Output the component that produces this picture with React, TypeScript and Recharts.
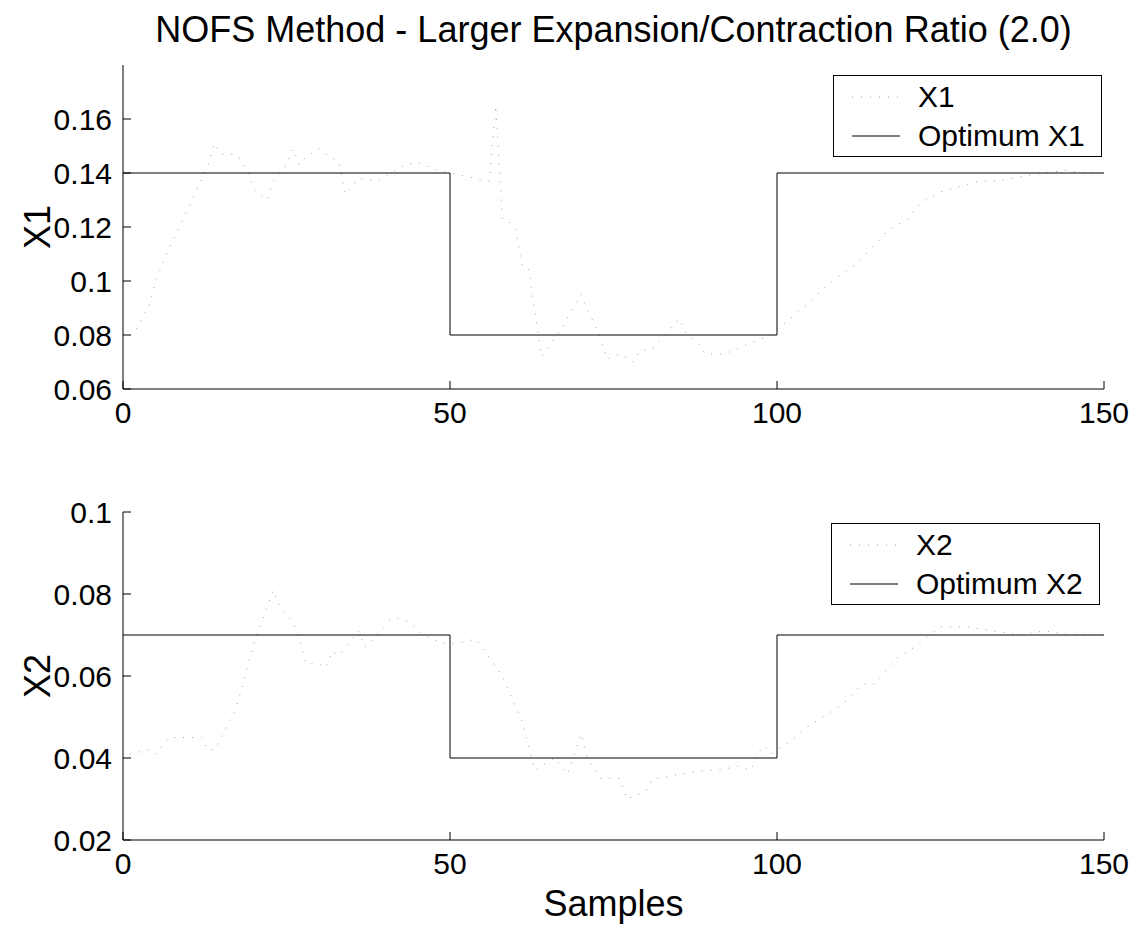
import React from "react";
import { LineChart, Line, XAxis, YAxis } from "recharts";

const sampleTicks = [0, 50, 100, 150];
const x1Ticks = [0.06, 0.08, 0.1, 0.12, 0.14, 0.16];
const x2Ticks = [0.02, 0.04, 0.06, 0.08, 0.1];

// optimum set points (step changes at samples 50 and 100)
const optSamples = [0, 50, 100, 150];
const optX1 = [0.14, 0.08, 0.14, 0.14];
const optX2 = [0.07, 0.04, 0.07, 0.07];

// NOFS estimate of X1
const x1Samples = [
  1, 2, 4, 5, 7, 10, 13, 14, 15, 17, 18, 19, 20, 22, 23, 25, 26, 27, 28, 30,
  31, 33, 34, 36, 39, 41, 43, 45, 48, 50, 52, 56, 57, 58, 59, 60, 61, 62, 64,
  67, 69, 70, 73, 74, 76, 78, 79, 81, 85, 86, 88, 89, 92, 95, 97, 99, 102, 105,
  107, 109, 112, 114, 116, 117, 120, 122, 125, 128, 131, 134, 138, 141, 144,
  147, 150,
];
const x1Values = [
  0.08, 0.082, 0.091, 0.1, 0.112, 0.127, 0.143, 0.151, 0.147, 0.147, 0.145,
  0.141, 0.134, 0.13, 0.137, 0.143, 0.149, 0.143, 0.146, 0.149, 0.147, 0.144,
  0.132, 0.138, 0.137, 0.14, 0.143, 0.144, 0.141, 0.14, 0.139, 0.137, 0.165,
  0.123, 0.122, 0.119, 0.106, 0.105, 0.072, 0.082, 0.091, 0.095, 0.079, 0.071,
  0.073, 0.07, 0.074, 0.075, 0.086, 0.081, 0.077, 0.073, 0.073, 0.076, 0.078,
  0.08, 0.086, 0.092, 0.097, 0.101, 0.106, 0.111, 0.116, 0.119, 0.123, 0.129,
  0.133, 0.135, 0.137, 0.137, 0.139, 0.14, 0.141, 0.14, 0.14,
];

// NOFS estimate of X2
const x2Samples = [
  1, 4, 5, 7, 10, 12, 13, 14, 16, 17, 18, 20, 23, 24, 25, 26, 27, 28, 30, 31,
  32, 33, 36, 37, 40, 41, 42, 44, 45, 47, 49, 51, 54, 58, 61, 63, 66, 68, 69,
  70, 71, 73, 75, 76, 77, 80, 81, 82, 85, 89, 91, 94, 96, 97, 98, 99, 102, 105,
  108, 110, 113, 115, 116, 118, 121, 125, 129, 133, 137, 141, 145, 150,
];
const x2Values = [
  0.041, 0.042, 0.041, 0.045, 0.045, 0.045, 0.042, 0.042, 0.048, 0.051, 0.056,
  0.068, 0.081, 0.077, 0.075, 0.073, 0.069, 0.063, 0.063, 0.062, 0.066, 0.065,
  0.071, 0.067, 0.072, 0.074, 0.074, 0.073, 0.071, 0.069, 0.068, 0.068, 0.069,
  0.06, 0.049, 0.037, 0.04, 0.036, 0.041, 0.046, 0.04, 0.035, 0.035, 0.035,
  0.03, 0.032, 0.035, 0.035, 0.036, 0.037, 0.037, 0.038, 0.037, 0.041, 0.043,
  0.041, 0.044, 0.048, 0.051, 0.053, 0.058, 0.058, 0.06, 0.064, 0.067, 0.072,
  0.072, 0.071, 0.07, 0.071, 0.07, 0.07,
];

const toRows = (xs: number[], ys: number[]) => xs.map((s, i) => ({ s, v: ys[i] }));

const FONT = '"Liberation Sans", Arial, sans-serif';
const EST_COLOR = "#a0a0a0";
const EST_DASH = "1 8";
const fmt = (v: number) => String(+v.toFixed(2));

const LegendBox = ({ name, optName, left, top }: { name: string; optName: string; left: number; top: number }) => (
  <div
    style={{
      position: "absolute",
      left,
      top,
      width: 267,
      height: 80,
      border: "1px solid #000",
      background: "#fff",
      fontFamily: FONT,
      fontSize: 30,
      color: "#000",
    }}
  >
    {[
      { label: name, dash: EST_DASH, color: EST_COLOR },
      { label: optName, dash: undefined, color: "#000" },
    ].map((it) => (
      <div key={it.label} style={{ display: "flex", alignItems: "center", height: 36, marginTop: 3, whiteSpace: "nowrap" }}>
        <svg width={84} height={10}>
          <line x1={18} x2={66} y1={5} y2={5} stroke={it.color} strokeWidth={1} strokeDasharray={it.dash} />
        </svg>
        <span>{it.label}</span>
      </div>
    ))}
  </div>
);

type PanelProps = {
  top: number;
  height: number;
  margin: { top: number; right: number; bottom: number; left: number };
  domain: [number, number];
  yTicks: number[];
  est: { s: number; v: number }[];
  opt: { s: number; v: number }[];
  name: string;
  optName: string;
};

const Panel = (p: PanelProps) => {
  const tickStyle = { fill: "#000", fontSize: 30, fontFamily: FONT };
  return (
    <div style={{ position: "absolute", left: 0, top: p.top }}>
      <LineChart width={1137} height={p.height} margin={p.margin}>
        <XAxis
          dataKey="s"
          type="number"
          domain={[0, 150]}
          ticks={sampleTicks}
          height={40}
          stroke="#000"
          tickSize={-8}
          tickMargin={21}
          tick={tickStyle}
          allowDataOverflow
        />
        <XAxis
          xAxisId="top"
          orientation="top"
          dataKey="s"
          type="number"
          domain={[0, 150]}
          ticks={sampleTicks}
          height={0}
          stroke="#000"
          tickSize={-8}
          tick={false}
        />
        <YAxis
          type="number"
          domain={p.domain}
          ticks={p.yTicks}
          width={100}
          stroke="#000"
          tickSize={-8}
          tickMargin={19}
          tick={tickStyle}
          tickFormatter={fmt}
          allowDataOverflow
        />
        <YAxis
          yAxisId="r"
          orientation="right"
          type="number"
          domain={p.domain}
          ticks={p.yTicks}
          width={0}
          stroke="#000"
          tickSize={-8}
          tick={false}
        />
        <Line
          data={p.est}
          dataKey="v"
          name={p.name}
          stroke={EST_COLOR}
          strokeWidth={1}
          strokeDasharray={EST_DASH}
          dot={false}
          isAnimationActive={false}
        />
        <Line
          data={p.opt}
          dataKey="v"
          name={p.optName}
          type="stepAfter"
          stroke="#000"
          strokeWidth={1}
          dot={false}
          isAnimationActive={false}
        />
      </LineChart>
    </div>
  );
};

const rotated = (top: number): React.CSSProperties => ({
  position: "absolute",
  left: 38,
  top,
  fontSize: 36,
  transform: "translate(-50%, -50%) rotate(-90deg)",
  whiteSpace: "nowrap",
});

export default function App() {
  return (
    <div
      style={{
        position: "absolute",
        left: 0,
        top: 0,
        width: 1137,
        height: 933,
        background: "#fff",
        fontFamily: FONT,
        color: "#000",
      }}
    >
      <div
        style={{
          position: "absolute",
          left: 123,
          width: 981,
          top: 8,
          textAlign: "center",
          fontSize: 36,
          lineHeight: "44px",
        }}
      >
        NOFS Method - Larger Expansion/Contraction Ratio (2.0)
      </div>
      <Panel
        top={0}
        height={450}
        margin={{ top: 65, right: 33, bottom: 21, left: 23 }}
        domain={[0.06, 0.18]}
        yTicks={x1Ticks}
        est={toRows(x1Samples, x1Values)}
        opt={toRows(optSamples, optX1)}
        name="X1"
        optName="Optimum X1"
      />
      <Panel
        top={450}
        height={483}
        margin={{ top: 62, right: 33, bottom: 53, left: 23 }}
        domain={[0.02, 0.1]}
        yTicks={x2Ticks}
        est={toRows(x2Samples, x2Values)}
        opt={toRows(optSamples, optX2)}
        name="X2"
        optName="Optimum X2"
      />
      <LegendBox name="X1" optName="Optimum X1" left={833} top={75} />
      <LegendBox name="X2" optName="Optimum X2" left={831} top={523} />
      <div style={rotated(227)}>X1</div>
      <div style={rotated(676)}>X2</div>
      <div
        style={{
          position: "absolute",
          left: 123,
          width: 981,
          top: 884,
          textAlign: "center",
          fontSize: 36,
          lineHeight: "40px",
        }}
      >
        Samples
      </div>
    </div>
  );
}
